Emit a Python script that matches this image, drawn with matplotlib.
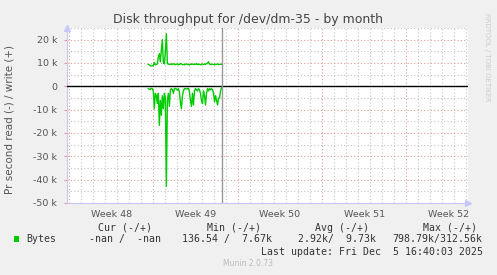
import numpy as np
import matplotlib
matplotlib.use("Agg")
import matplotlib.pyplot as plt
from matplotlib.patches import Rectangle

# ---- data ----
title = "Disk throughput for /dev/dm-35 - by month"
ylabel = "Pr second read (-) / write (+)"
week_labels = ["Week 48", "Week 49", "Week 50", "Week 51", "Week 52"]
week_starts_h = [0, 168, 336, 504, 672]          # hours since start of week 48
yticks = [20000, 10000, 0, -10000, -20000, -30000, -40000, -50000]
ytick_labels = ["20 k", "10 k", "0", "-10 k", "-20 k", "-30 k", "-40 k", "-50 k"]

t_start_h = 158       # first sample, hours since start of week 48
t_step_h = 2          # sample interval (hours)
now_h = 304           # last update marker

write_k = [9.4, 9.2, 8.8, 8.7, 8.8, 9.0, 10.2, 9.2, 9.4, 9.6, 12.5, 14.0, 10.5, 15.5,
           20.0, 10.0, 9.6, 15.0, 22.5, 9.8, 9.5, 9.4, 9.6, 9.3, 9.5, 9.7, 9.4, 9.3,
           9.5, 9.6, 9.2, 9.4, 9.8, 9.5, 9.3, 9.4, 9.2, 9.5, 9.6, 9.3, 9.4, 9.2, 9.5,
           9.4, 9.6, 9.3, 9.5, 9.4, 9.7, 9.3, 9.4, 9.5, 9.2, 9.4, 9.6, 9.3, 9.5, 9.4,
           9.8, 10.0, 10.5, 9.6, 9.4, 9.3, 9.5, 9.4, 9.2, 9.5, 9.4, 9.6, 9.3, 9.4, 9.5, 9.4]
read_k = [-1.0, -1.2, -1.4, -0.8, -1.0, -2.0, -9.6, -3.0, -4.0, -7.4, -3.0, -16.7, -6.0,
          -12.4, -4.0, -9.6, -3.0, -5.0, -42.8, -6.0, -3.0, -8.6, -1.5, -1.0, -1.5, -3.0,
          -1.0, -0.8, -1.2, -1.7, -1.0, -2.5, -7.0, -9.6, -4.0, -2.0, -1.0, -0.9, -1.2,
          -1.0, -0.8, -2.5, -6.0, -8.6, -3.0, -8.0, -2.0, -1.0, -1.5, -2.0, -1.0, -1.5,
          -3.0, -6.0, -7.4, -2.0, -4.0, -8.0, -3.0, -1.0, -2.0, -1.0, -1.5, -1.0, -1.5,
          -3.0, -6.7, -4.0, -6.0, -8.0, -5.0, -5.0, -2.0, -0.5]

legend_head = ["Cur (-/+)", "Min (-/+)", "Avg (-/+)", "Max (-/+)"]
legend_vals = ["-nan /  -nan", "136.54 /  7.67k", "2.92k/  9.73k", "798.79k/312.56k"]
series_name = "Bytes"
last_update = "Last update: Fri Dec  5 16:40:03 2025"
version = "Munin 2.0.73"
side_text = "RRDTOOL / TOBI OETIKER"

# ---- figure ----
W, H = 497, 275
fig = plt.figure(figsize=(W / 100, H / 100), dpi=100, facecolor="#F0F0F0")
L, R, T, B = 67, 468, 28, 203
ax = fig.add_axes([L / W, 1 - B / H, (R - L) / W, (B - T) / H])
ax.set_facecolor("white")

t = t_start_h + t_step_h * np.arange(len(write_k))
green = "#00CC00"
ax.plot(t, np.array(write_k) * 1000, color=green, lw=1.0, zorder=4)
ax.plot(t, np.array(read_k) * 1000, color=green, lw=1.0, zorder=4)

ax.set_xlim(-4, 795)
ax.set_ylim(-50000, 25000)

minor_grid = dict(color="#c4c4c4", lw=0.8, ls=(0, (1, 2)), zorder=1)
major_grid = dict(color="#e09a9a", lw=0.8, ls=(0, (1, 2)), zorder=2)
for h in range(0, 800, 24):
    if h not in week_starts_h:
        ax.axvline(h, **minor_grid)
for h in week_starts_h:
    ax.axvline(h, **major_grid)
for v in range(-45000, 25001, 10000):
    ax.axhline(v, **minor_grid)
for v in yticks:
    if v != 0:
        ax.axhline(v, **major_grid)
ax.axhline(0, color="black", lw=1.0, zorder=3)
ax.axvline(now_h, color="#999999", lw=1.0, zorder=5)

for s in ["top", "right"]:
    ax.spines[s].set_visible(False)
for s in ["left", "bottom"]:
    ax.spines[s].set_color("#c8c8f0")
    ax.spines[s].set_linewidth(0.8)

ax.set_yticks(yticks)
ax.set_yticklabels(ytick_labels)
ax.set_xticks([h + 84 for h in week_starts_h])
ax.set_xticklabels(week_labels)
ax.tick_params(axis="y", length=2, color="#e09a9a", labelsize=6.8, labelcolor="#555555", pad=5)
ax.tick_params(axis="x", length=0, labelsize=6.8, labelcolor="#555555", pad=5)

# axis arrows
ax.plot([0], [1.0], transform=ax.transAxes, marker="^", ms=4, color="#c8c8f8",
        clip_on=False, zorder=6)
ax.plot([1.0], [0], transform=ax.transAxes, marker=">", ms=4, color="#c8c8f8",
        clip_on=False, zorder=6)

def px(x, y):
    return x / W, 1 - y / H

fig.text(*px(248, 19), title, ha="center", va="center", fontsize=9.0, color="#444444")
fig.text(*px(10, 120), ylabel, ha="center", va="center", rotation=90, fontsize=7.5,
         color="#555555")
fig.text(*px(487, 57), side_text, ha="center", va="center", rotation=270, fontsize=5,
         color="#cccccc")

mono = dict(family="DejaVu Sans Mono", fontsize=7.1, color="#333333", va="center")
for x, s in zip([98, 207, 315, 423], legend_head):
    fig.text(*px(x, 228), s, ha="left", **mono)
fig.patches.append(Rectangle(px(14, 242), 5 / W, 6 / H, transform=fig.transFigure,
                             facecolor=green, edgecolor="none"))
fig.text(*px(26, 239), series_name, ha="left", **mono)
for x, s in zip([89, 182, 298, 392], legend_vals):
    fig.text(*px(x, 239), s, ha="left", **mono)
fig.text(*px(261, 252), last_update, ha="left", **mono)
fig.text(*px(248, 264), version, ha="center", va="center", fontsize=5.5, color="#bbbbbb")

fig.savefig("out.png", dpi=100, facecolor=fig.get_facecolor())
